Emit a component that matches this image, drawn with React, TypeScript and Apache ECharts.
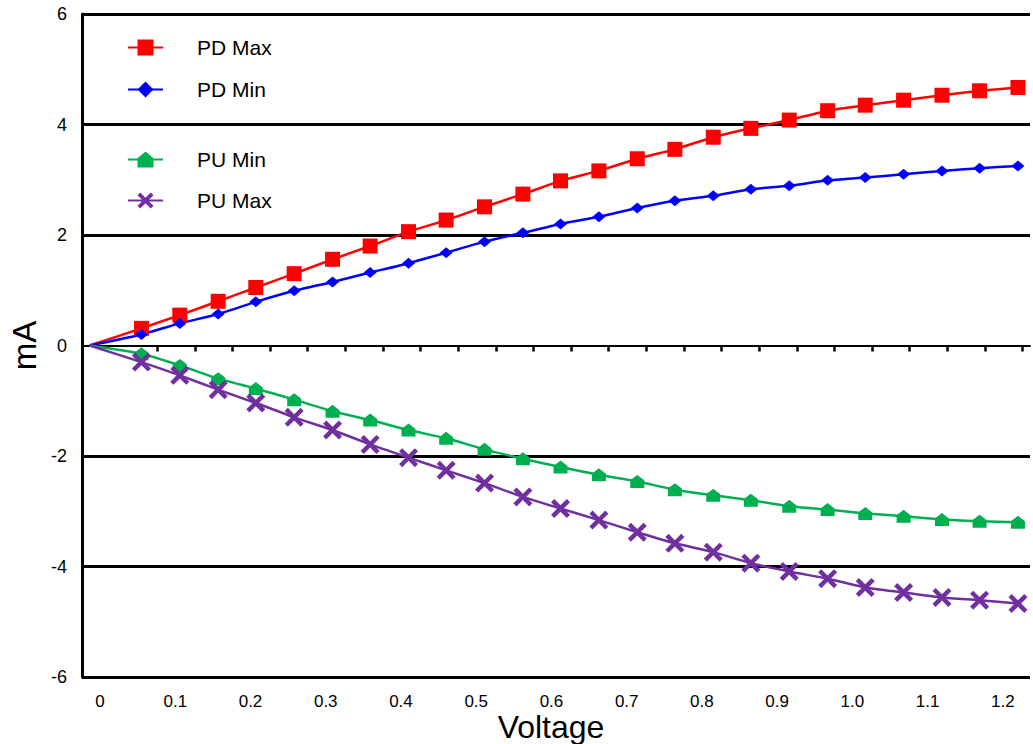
import React, { useEffect, useRef } from "react";
import * as echarts from "echarts";

// Voltage (V) of each sample; first is the origin
const voltage = [0, 0.069, 0.12, 0.171, 0.221, 0.272, 0.323, 0.373, 0.424, 0.474, 0.525, 0.576, 0.626, 0.677, 0.728, 0.778, 0.829, 0.879, 0.93, 0.981, 1.031, 1.082, 1.133, 1.183, 1.234];

// Current (mA)
const pdMax = [0, 0.31, 0.55, 0.8, 1.05, 1.3, 1.56, 1.8, 2.06, 2.27, 2.51, 2.74, 2.98, 3.16, 3.38, 3.55, 3.77, 3.93, 4.08, 4.25, 4.35, 4.44, 4.53, 4.61, 4.67];
const pdMin = [0, 0.2, 0.4, 0.57, 0.79, 0.99, 1.15, 1.32, 1.49, 1.68, 1.88, 2.04, 2.2, 2.33, 2.49, 2.62, 2.71, 2.83, 2.89, 2.99, 3.04, 3.1, 3.16, 3.21, 3.25];
const puMin = [0, -0.15, -0.36, -0.6, -0.78, -0.98, -1.19, -1.35, -1.53, -1.68, -1.88, -2.05, -2.2, -2.34, -2.46, -2.61, -2.71, -2.8, -2.91, -2.97, -3.04, -3.09, -3.15, -3.18, -3.2];
const puMax = [0, -0.3, -0.54, -0.8, -1.04, -1.3, -1.53, -1.79, -2.03, -2.26, -2.49, -2.74, -2.95, -3.16, -3.38, -3.58, -3.74, -3.94, -4.09, -4.22, -4.38, -4.47, -4.56, -4.61, -4.67];

// Axis labels / ticks
const xLabelValues = [0, 0.1, 0.2, 0.3, 0.4, 0.5, 0.6, 0.7, 0.8, 0.9, 1.0, 1.1, 1.2];
const zeroLineTicks = [0.09, 0.14, 0.19, 0.24, 0.29, 0.34, 0.39, 0.44, 0.49, 0.54, 0.59, 0.64, 0.69, 0.74, 0.79, 0.84, 0.89, 0.94, 0.99, 1.04, 1.09, 1.14, 1.19, 1.24];

const FONT = "Liberation Sans, Arial, sans-serif";

const greenShape = "path://M6,0 L12,5 L12,12 L0,12 L0,5 Z";
const crossShape = "path://M0,3 L3,0 L9,6 L15,0 L18,3 L12,9 L18,15 L15,18 L9,12 L3,18 L0,15 L6,9 Z";

function pairs(ys: number[]) {
  return ys.map((y, i) => (i === 0 ? { value: [voltage[i], y], symbol: "none" } : [voltage[i], y]));
}

export default function App() {
  const ref = useRef<HTMLDivElement>(null);
  useEffect(() => {
    if (!ref.current) return;
    const chart = echarts.init(ref.current, undefined, { renderer: "svg" });
    const mk = (name: string, ys: number[], color: string, symbol: string, size: any) => ({
      name,
      type: "line",
      data: pairs(ys),
      symbol,
      symbolSize: size,
      showAllSymbol: true,
      smooth: 0.2,
      xAxisIndex: 0,
      yAxisIndex: 0,
      lineStyle: { color, width: 2.5 },
      itemStyle: { color },
      z: 5,
    });
    const legendText = { fontFamily: FONT, fontSize: 21, color: "#000", padding: [0, 0, 0, 29] };
    chart.setOption({
      animation: false,
      backgroundColor: "#ffffff",
      textStyle: { fontFamily: FONT },
      grid: { left: 82, right: 3, top: 14, bottom: 67, containLabel: false, outerBoundsMode: "none" },
      legend: [
        {
          data: ["PD Max", "PD Min"],
          orient: "vertical",
          left: 127,
          top: 37,
          padding: 0,
          itemWidth: 35,
          itemHeight: 20,
          itemGap: 21,
          textStyle: legendText,
        },
        {
          data: ["PU Min", "PU Max"],
          orient: "vertical",
          left: 127,
          top: 149,
          padding: 0,
          itemWidth: 35,
          itemHeight: 20,
          itemGap: 20,
          textStyle: legendText,
        },
      ],
      xAxis: [
        {
          type: "value",
          min: -0.01,
          max: 1.25,
          position: "bottom",
          name: "Voltage",
          nameLocation: "middle",
          nameGap: 36,
          nameMoveOverlap: false,
          nameTextStyle: { fontFamily: FONT, fontSize: 32, lineHeight: 28, color: "#000", padding: [0, 10, 0, 0] },
          axisLine: { show: false, onZero: false },
          axisTick: { show: false },
          splitLine: { show: false },
          axisLabel: {
            customValues: xLabelValues,
            formatter: (v: number) => (v === 0 ? "0" : v.toFixed(1)),
            fontFamily: FONT,
            fontSize: 17,
            lineHeight: 14,
            color: "#000",
            margin: 17,
            padding: [0, 0, 0, 21],
          },
        },
        {
          type: "value",
          min: -0.01,
          max: 1.25,
          position: "top",
          axisLine: { show: true, onZero: true, lineStyle: { color: "#000", width: 2 } },
          axisTick: {
            show: true,
            inside: true,
            length: 6,
            customValues: zeroLineTicks,
            lineStyle: { color: "#000", width: 2.5 },
          },
          axisLabel: { show: false },
          splitLine: { show: false },
        },
      ],
      yAxis: {
        type: "value",
        min: -6,
        max: 6,
        interval: 2,
        name: "mA",
        nameLocation: "middle",
        nameRotate: 90,
        nameGap: 41,
        nameMoveOverlap: false,
        nameTextStyle: { fontFamily: FONT, fontSize: 33, color: "#000" },
        axisLine: { show: true, onZero: false, lineStyle: { color: "#000", width: 3 } },
        axisTick: { show: false },
        axisLabel: { fontFamily: FONT, fontSize: 18, color: "#000", margin: 15 },
        splitLine: {
          show: true,
          lineStyle: {
            color: ["#000", "#000", "#000", "rgba(0,0,0,0)", "#000", "#000", "#000"],
            width: 3,
          },
        },
      },
      series: [
        mk("PD Max", pdMax, "#ff0000", "rect", 15),
        mk("PD Min", pdMin, "#0000ff", "diamond", [13, 11]),
        mk("PU Min", puMin, "#00b050", greenShape, [14, 13]),
        mk("PU Max", puMax, "#7030a0", crossShape, 19),
      ],
    });
    return () => chart.dispose();
  }, []);
  return (
    <div
      ref={ref}
      style={{ position: "fixed", left: 0, top: 0, width: 1033, height: 744, background: "#fff" }}
    />
  );
}
